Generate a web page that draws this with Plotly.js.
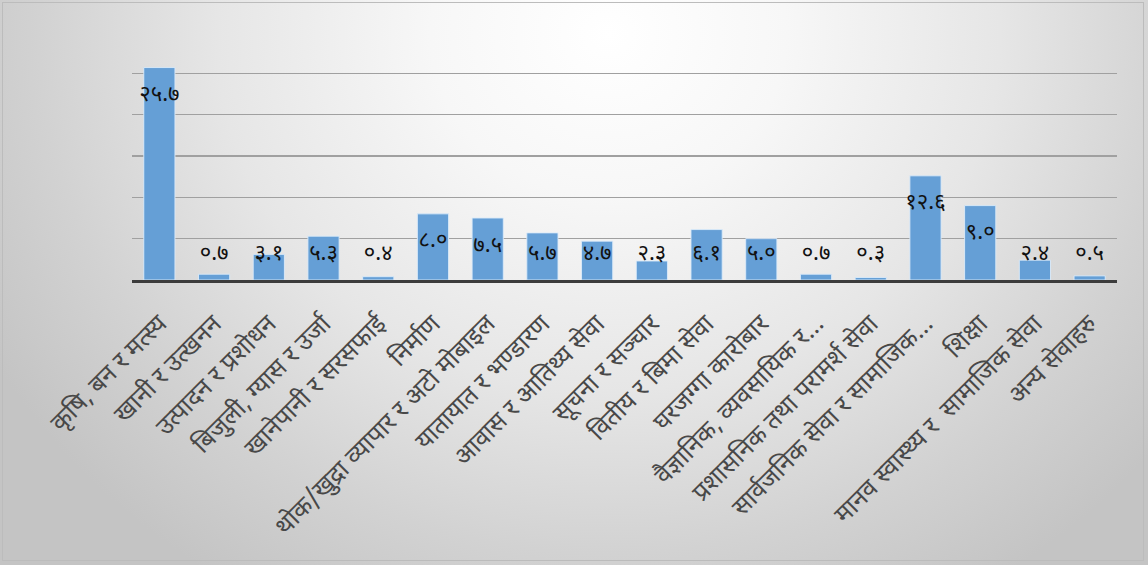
<!DOCTYPE html>
<html>
<head>
<meta charset="utf-8">
<script src="https://cdn.plot.ly/plotly-3.0.1.min.js"></script>
<style>
  html, body { margin: 0; padding: 0; width: 1148px; height: 565px; overflow: hidden; }
  #bg {
    position: absolute; left: 0; top: 0; width: 1148px; height: 565px;
    background: radial-gradient(ellipse 62% 115% at 53% 6%, #ffffff 0%, #f7f7f7 25%, #e6e6e6 55%, #d2d2d2 80%, #c4c4c4 100%);
  }
  #frame {
    position: absolute; left: 2px; top: 2px; width: 1142px; height: 559px;
    border: 1.5px solid #bcbcbc; box-sizing: border-box; pointer-events: none;
  }
  #chart { position: absolute; left: 0; top: 0; width: 1148px; height: 565px; }
</style>
</head>
<body>
<div id="bg"></div>
<div id="chart"></div>
<div id="frame"></div>
<script>
const categories = [
  "कृषि, बन र मत्स्य",
  "खानी र उत्खनन",
  "उत्पादन र प्रशोधन",
  "बिजुली, ग्यास र उर्जा",
  "खानेपानी र सरसफाई",
  "निर्माण",
  "थोक/खुद्रा व्यापार र अटो मोबाइल",
  "यातायात र भण्डारण",
  "आवास र आतिथ्य सेवा",
  "सूचना र सञ्चार",
  "वितीय र बिमा सेवा",
  "घरजग्गा कारोबार",
  "वैज्ञानिक, व्यवसायिक र…",
  "प्रशासनिक तथा परामर्श सेवा",
  "सार्वजनिक सेवा र सामाजिक…",
  "शिक्षा",
  "मानव स्वास्थ्य र  सामाजिक सेवा",
  "अन्य सेवाहरु"
];
const values = [25.7, 0.7, 3.1, 5.3, 0.4, 8.0, 7.5, 5.7, 4.7, 2.3, 6.1, 5.0, 0.7, 0.3, 12.6, 9.0, 2.4, 0.5];
const yTicks = [0, 5, 10, 15, 20, 25, 30];

const devDigits = "०१२३४५६७८९";
const toDev = s => s.replace(/[0-9]/g, d => devDigits[+d]);
const labelText = values.map(v => toDev(v.toFixed(1)));
// label anchor: inside the top of the bar, kept clear of the axis for short bars
const labelY = values.map(v => Math.max(v - 3.4, 3.1));

const devFont = "'Noto Sans Devanagari', 'Noto Sans', 'Lohit Devanagari', 'FreeSans', sans-serif";

const traces = [
  {
    type: 'bar',
    x: categories,
    y: values,
    marker: { color: '#659fd6', line: { color: 'rgba(220,235,250,0.9)', width: 1 } },
    hoverinfo: 'skip'
  },
  {
    type: 'scatter',
    mode: 'text',
    x: categories,
    y: labelY,
    text: labelText,
    textposition: 'middle center',
    textfont: { family: devFont, size: 22, color: '#111111' },
    hoverinfo: 'skip',
    cliponaxis: false
  }
];

const layout = {
  width: 1148,
  height: 565,
  margin: { l: 132, r: 31, t: 32, b: 285 },
  paper_bgcolor: 'rgba(0,0,0,0)',
  plot_bgcolor: 'rgba(0,0,0,0)',
  showlegend: false,
  bargap: 0.43,
  font: { family: devFont, color: '#404040' },
  xaxis: {
    type: 'category',
    range: [-0.5, categories.length - 0.5],
    tickangle: -45,
    tickfont: { family: devFont, size: 25, color: '#484848' },
    ticklabelstandoff: 16,
    showline: true,
    linecolor: '#3c3c3c',
    linewidth: 3,
    ticks: '',
    showgrid: false,
    zeroline: false,
    automargin: false
  },
  yaxis: {
    range: [0, 30],
    tickvals: yTicks,
    showticklabels: false,
    showgrid: true,
    gridcolor: '#a0a0a0',
    gridwidth: 1.5,
    zeroline: false,
    showline: false,
    ticks: ''
  }
};

Plotly.newPlot('chart', traces, layout, { displayModeBar: false, staticPlot: true });
</script>
</body>
</html>
